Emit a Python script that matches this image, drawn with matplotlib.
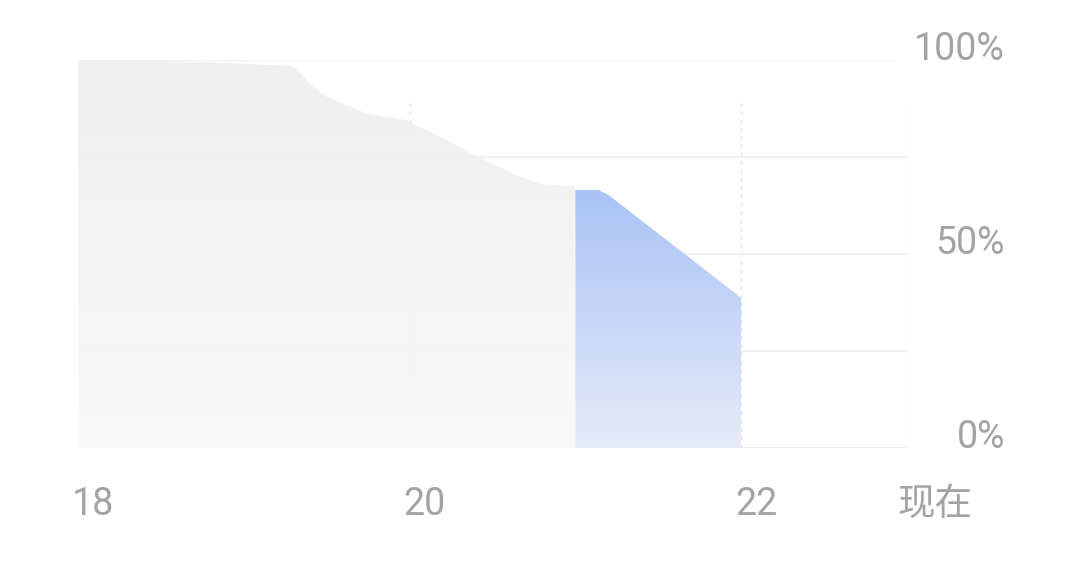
import numpy as np
import matplotlib
matplotlib.use('Agg')
import matplotlib.pyplot as plt
from matplotlib.patches import Polygon
from matplotlib.colors import LinearSegmentedColormap
import matplotlib.transforms as mtransforms

plt.rcParams['font.family'] = ['Roboto', 'Noto Sans CJK SC', 'DejaVu Sans']

# battery level history (hour, percent)
past_hours = [18.0, 18.8, 19.0, 19.28, 19.34, 19.42, 19.5, 19.64, 19.74, 19.88,
              19.98, 20.03, 20.1, 20.25, 20.4, 20.54, 20.66, 20.8, 21.0]
past_level = [100, 99.5, 99.0, 98.5, 96.6, 93.0, 90.5, 88, 86.2, 85.2,
              84.5, 83.3, 82, 78.8, 75.3, 72.5, 70, 68, 67.5]
# highlighted segment
sel_hours = [21.0, 21.14, 21.2, 22.0]
sel_level = [66.5, 66.5, 65.2, 38.7]

x_ticks = [18, 20, 22, 23]
x_labels = ['18', '20', '22', '现在']
y_ticks = [0, 50, 100]
y_labels = ['0%', '50%', '100%']
grid_y = [0, 25, 50, 75, 100]

fig = plt.figure(figsize=(10.8, 5.63), dpi=100)
ax = fig.add_axes([78 / 1080, 1 - 448 / 563, (907 - 78) / 1080, (448 - 60) / 563])
ax.set_xlim(18, 23)
ax.set_ylim(0, 100)
ax.axis('off')

# grid
for gy in grid_y:
    xend = 22.93 if gy == 100 else 23
    ax.plot([18, xend], [gy, gy], color='#ececec', lw=1.2, zorder=1)
for gx in [20, 22, 23]:
    ax.plot([gx, gx], [0, 90.5], color='#e6e6e6', lw=1.0, ls=(0, (3, 3)), zorder=1)


def gradient_fill(xs, ys, top_rgb, bot_rgb, alpha=1.0, z=2):
    verts = [(xs[0], 0)] + list(zip(xs, ys)) + [(xs[-1], 0)]
    poly = Polygon(verts, closed=True, facecolor='none', edgecolor='none')
    ax.add_patch(poly)
    cmap = LinearSegmentedColormap.from_list('g', [bot_rgb, top_rgb])
    grad = np.linspace(0, 1, 256).reshape(-1, 1)
    im = ax.imshow(grad, cmap=cmap, origin='lower', aspect='auto',
                   extent=[xs[0], xs[-1], 0, max(ys)], alpha=alpha, zorder=z)
    im.set_clip_path(poly)


gradient_fill(past_hours, past_level, '#eeeeee', '#f9f9f9', alpha=0.9)
gradient_fill(sel_hours, sel_level, '#a9c3f6', '#e6ebf9', z=3)

ax.set_xlim(18, 23)
ax.set_ylim(0, 100)

# labels
txt_color = '#a3a3a3'
for xv, lab in zip(x_ticks, x_labels):
    tr = mtransforms.offset_copy(ax.transData, fig=fig, x=-6 if xv < 23 else -10, y=0, units='dots')
    ax.text(xv, -14.5, lab, transform=tr, ha='left', va='center',
            fontsize=27, color=txt_color, clip_on=False)

tr_y = mtransforms.blended_transform_factory(fig.transFigure, ax.transData)
for yv, lab in zip(y_ticks, y_labels):
    ax.text(1005 / 1080, yv, lab, transform=tr_y, ha='right', va='baseline',
            fontsize=27, color=txt_color, clip_on=False)

fig.savefig('out.png', dpi=100, facecolor='white')
